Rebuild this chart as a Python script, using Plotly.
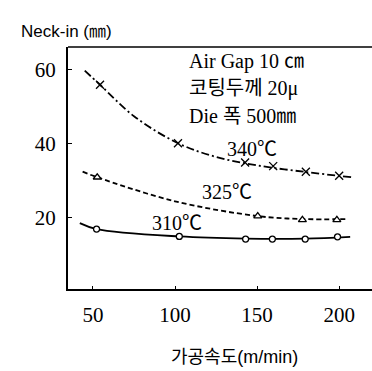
import plotly.graph_objects as go

# Processing speed (m/min) and neck-in (mm) for each melt temperature
speed_340 = [54.3, 101.8, 142.7, 159.8, 179.7, 200.0]
neck_340 = [56.0, 40.2, 35.0, 34.0, 32.5, 31.4]

speed_325 = [52.6, 150.4, 177.6, 198.6]
neck_325 = [31.0, 20.5, 19.5, 19.5]

speed_310 = [52.2, 102.6, 143.0, 159.3, 179.3, 199.0]
neck_310 = [17.0, 15.0, 14.3, 14.3, 14.3, 14.9]

# Points along the drawn smooth curves (including their ends)
curve_x_340 = [45.0, 54.3, 75.0, 101.8, 125.0, 150.0, 180.0, 207.6]
curve_y_340 = [59.8, 56.0, 47.5, 40.2, 36.5, 34.2, 32.4, 31.0]

curve_x_325 = [43.7, 52.6, 100.0, 150.4, 177.6, 205.5]
curve_y_325 = [32.5, 31.0, 24.5, 20.5, 19.7, 19.7]

curve_x_310 = [42.0, 52.2, 102.6, 143.0, 179.3, 206.7]
curve_y_310 = [18.6, 17.0, 15.0, 14.4, 14.4, 14.9]

x_ticks = [50, 100, 150, 200]
y_ticks = [20, 40, 60]

serif = "Liberation Serif, Noto Sans CJK KR, serif"
sans = "Liberation Sans, Noto Sans CJK KR, sans-serif"

fig = go.Figure()

curves = [
    (curve_x_340, curve_y_340, "8px,3px,2px,3px"),
    (curve_x_325, curve_y_325, "5px,3px"),
    (curve_x_310, curve_y_310, "solid"),
]
for cx, cy, dash in curves:
    fig.add_trace(go.Scatter(
        x=cx, y=cy, mode="lines",
        line=dict(color="black", width=1.8, dash=dash, shape="spline", smoothing=1.0),
        hoverinfo="skip", showlegend=False,
    ))

markers = [
    (speed_340, neck_340, "x-thin", 8, "black"),
    (speed_325, neck_325, "triangle-up", 7, "white"),
    (speed_310, neck_310, "circle", 6, "white"),
]
for sx, sy, sym, size, fill in markers:
    fig.add_trace(go.Scatter(
        x=sx, y=sy, mode="markers",
        marker=dict(symbol=sym, size=size, color=fill,
                    line=dict(color="black", width=1.3)),
        showlegend=False,
    ))

label_font = dict(family=serif, size=20, color="black")
fig.add_annotation(x=147, y=38.6, text="340℃", showarrow=False, font=label_font)
fig.add_annotation(x=131.5, y=26.9, text="325℃", showarrow=False, font=label_font)
fig.add_annotation(x=101, y=18.7, text="310℃", showarrow=False, font=label_font)

info = ["Air Gap 10 ㎝", "코팅두께 20μ", "Die 폭 500㎜"]
for i, line in enumerate(info):
    fig.add_annotation(
        x=0.39, xref="paper", xanchor="left",
        y=62.2 - i * 7.3, text=line, showarrow=False,
        font=dict(family=serif, size=20, color="black"),
    )

fig.add_annotation(
    x=-0.162, xref="paper", y=1.062, yref="paper", xanchor="left", yanchor="middle",
    text="Neck-in (㎜)", showarrow=False,
    font=dict(family=sans, size=17, color="black"),
)
fig.add_annotation(
    x=0.549, xref="paper", y=-0.28, yref="paper", xanchor="center", yanchor="middle",
    text="가공속도(m/min)", showarrow=False,
    font=dict(family=sans, size=18, color="black"),
)

fig.update_layout(
    width=372, height=371,
    margin=dict(l=68, r=0, t=47, b=82),
    paper_bgcolor="white", plot_bgcolor="white",
    xaxis=dict(
        range=[34.8, 220], tickvals=x_ticks, ticks="inside", ticklen=3,
        tickcolor="black", showgrid=False, zeroline=False,
        showline=True, linecolor="black", linewidth=2, mirror=False,
        ticklabelstandoff=6,
        tickfont=dict(family=serif, size=21, color="black"),
    ),
    yaxis=dict(
        range=[0.8, 66.2], tickvals=y_ticks, ticks="inside", ticklen=4,
        tickcolor="black", showgrid=False, zeroline=False,
        showline=True, linecolor="black", linewidth=2,
        ticklabelstandoff=6,
        tickfont=dict(family=serif, size=21, color="black"),
    ),
    shapes=[dict(type="line", xref="paper", yref="paper", x0=0, x1=1, y0=1, y1=1,
                 line=dict(color="black", width=1.5))],
)

fig.write_html("out.html")
